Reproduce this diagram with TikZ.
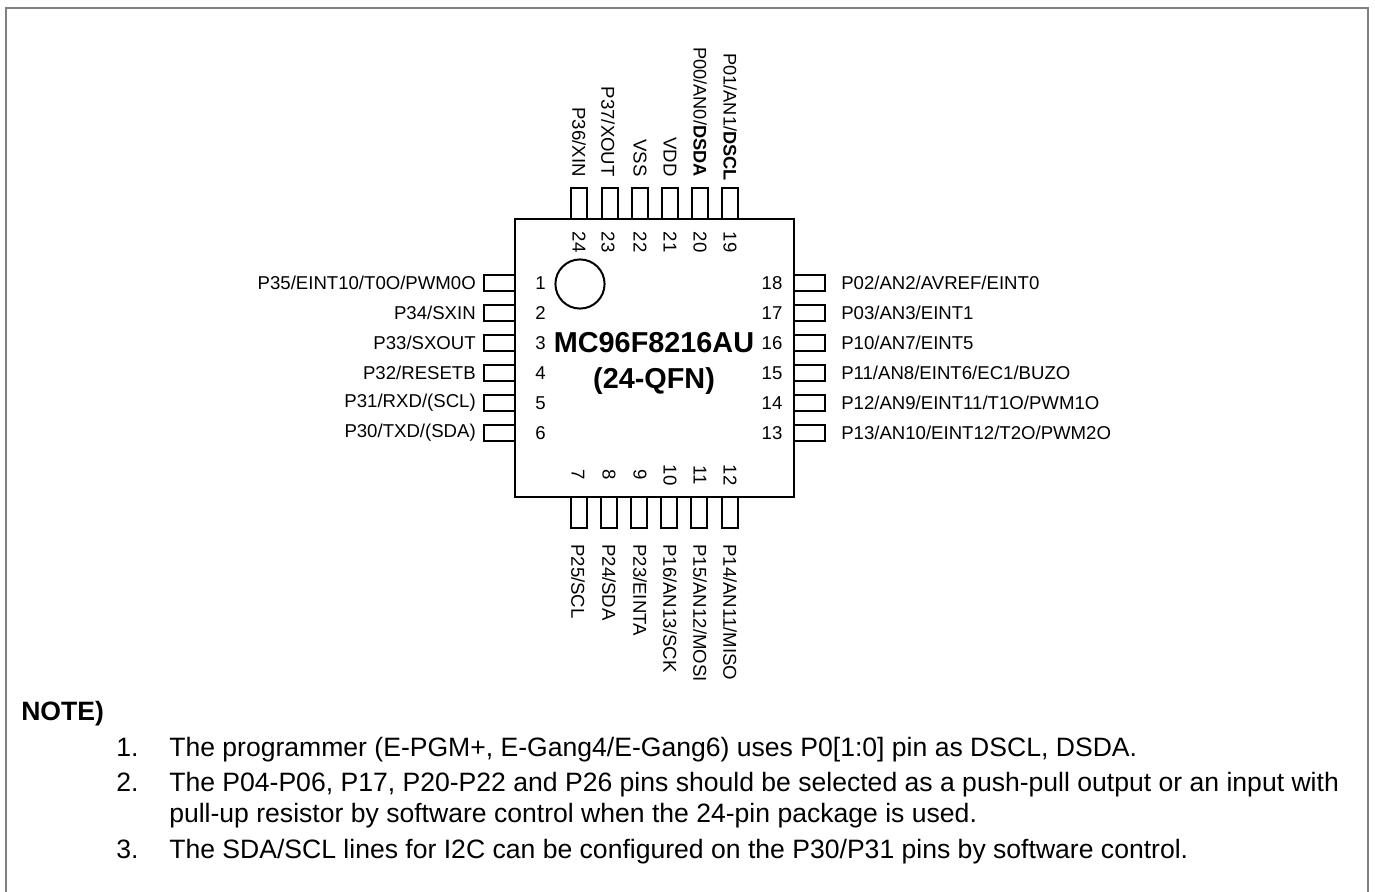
\documentclass[tikz,border=0pt]{standalone}
\usepackage{fontspec}
\setmainfont{Liberation Sans}
\newcommand{\narrowlbl}{\fontsize{13.7}{16}\selectfont}
\tikzset{x=0.0264583cm,y=-0.0264583cm,
 pinline/.style={draw=black,line width=1.5pt},
 lbl/.style={font=\fontsize{14}{16}\selectfont,inner sep=0pt},
 note/.style={font=\fontsize{20}{24}\selectfont,inner sep=0pt,anchor=base west},
 title/.style={font=\fontsize{21.7}{25}\bfseries\selectfont,inner sep=0pt}}
\begin{document}
\begin{tikzpicture}
\useasboundingbox (0,0) rectangle (1375,891);
\draw[draw=black!50,line width=1.5pt] (6,892) -- (6,8) -- (1368,8) -- (1368,892);
\draw[pinline] (515,219) rectangle (794,497);
\node[pinline,circle,minimum size=1.3cm,inner sep=0pt] (dot) at (580,284) {};
% top pins
\foreach \x/\l/\n/\t/\y in {579/579/24/{P36/XIN}/177,609.5/608/23/{P37/XOUT}/177,639.5/640/22/{VSS}/177,670/670/21/{VDD}/177,700/700/20/{\narrowlbl P00/AN0/\textbf{DSDA}}/177,730/730/19/{\narrowlbl P01/AN1/\textbf{DSCL}}/181}{
 \draw[pinline] (\x-8,219) -- (\x-8,188) -- (\x+8,188) -- (\x+8,219);
 \node[lbl,rotate=-90,anchor=east] at (\l,\y) {\t};
 \node[lbl,rotate=-90] at (\l,242) {\n};
}
% bottom pins
\foreach \x/\l/\n/\t in {578.5/578/7/{P25/SCL},608.5/609/8/{P24/SDA},639/640/9/{P23/EINTA},669/670/10/{P16/AN13/SCK},699/700/11/{P15/AN12/MOSI},730/730/12/{P14/AN11/MISO}}{
 \draw[pinline] (\x-8,497) -- (\x-8,528) -- (\x+8,528) -- (\x+8,497);
 \node[lbl,rotate=-90,anchor=west] at (\l,544) {\t};
 \node[lbl,rotate=-90] at (\l,475) {\n};
}
% left
\foreach \y/\n/\t in {283/1/{P35/EINT10/T0O/PWM0O},313/2/{P34/SXIN},343/3/{P33/SXOUT},373/4/{P32/RESETB},403/5/{P31/RXD/(SCL)},433/6/{P30/TXD/(SDA)}}{
 \draw[pinline] (515,\y-8) -- (484,\y-8) -- (484,\y+8) -- (515,\y+8);
 \node[lbl,anchor=east] at (476,\y) {\t};
 \node[lbl] at (540.5,\y) {\n};
}
% right
\foreach \y/\n/\t in {283/18/{P02/AN2/AVREF/EINT0},313/17/{P03/AN3/EINT1},343/16/{P10/AN7/EINT5},373/15/{P11/AN8/EINT6/EC1/BUZO},403/14/{P12/AN9/EINT11/T1O/PWM1O},433/13/{P13/AN10/EINT12/T2O/PWM2O}}{
 \draw[pinline] (794,\y-8) -- (825,\y-8) -- (825,\y+8) -- (794,\y+8);
 \node[lbl,anchor=west] at (841,\y) {\t};
 \node[lbl] at (772,\y) {\n};
}
\node[title] at (654,343) {MC96F8216AU};
\node[title] at (654,381) {(24-QFN)};
\node[note,font=\fontsize{20}{24}\bfseries\selectfont] at (21,720) {NOTE)};
\node[note] at (116,756) {1.};
\node[note] at (169,756) {The programmer (E-PGM+, E-Gang4/E-Gang6) uses P0[1:0] pin as DSCL, DSDA.};
\node[note] at (116,791) {2.};
\node[note] at (169,791) {The P04-P06, P17, P20-P22 and P26 pins should be selected as a push-pull output or an input with};
\node[note] at (169,822) {pull-up resistor by software control when the 24-pin package is used.};
\node[note] at (116,858) {3.};
\node[note] at (169,858) {The SDA/SCL lines for I2C can be configured on the P30/P31 pins by software control.};
\end{tikzpicture}
\end{document}
